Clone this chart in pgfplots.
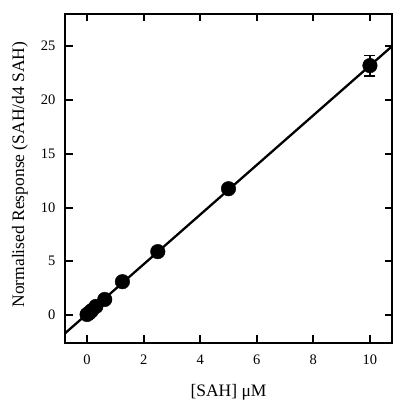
\documentclass[border=0pt]{standalone}
\usepackage{fontspec}
\setmainfont{Liberation Serif}
\usepackage{pgfplots}
\pgfplotsset{compat=1.18}
\begin{document}
\begin{tikzpicture}
\begin{axis}[
  scale only axis,
  width=327pt, height=329pt,
  xmin=-0.78, xmax=10.78,
  ymin=-2.6, ymax=28,
  xtick={0,2,4,6,8,10},
  ytick={0,5,10,15,20,25},
  tick align=inside,
  major tick length=7.5pt,
  xtick style={black, line width=2pt},
  ytick style={black, line width=2pt},
  axis line style={line width=2.2pt},
  tick label style={font=\fontsize{14.5}{16}\selectfont},
  xticklabel style={yshift=-8pt},
  yticklabel style={xshift=-6pt},
  /pgf/number format/assume math mode=true,
  xlabel={[SAH] μM},
  ylabel={Normalised Response (SAH/d4 SAH)},
  label style={font=\fontsize{17.5}{20}\selectfont},
  xlabel style={anchor=center, at={(axis description cs:0.5,-0.150)}},
  ylabel style={anchor=center, at={(axis description cs:-0.138,0.512)}},
]
\addplot[black, line width=2.3pt] coordinates {(-0.78,-1.70) (10.78,25.0)};
\addplot[only marks, mark=*, mark size=7.3pt, black,
  error bars/.cd, y dir=both, y explicit, error bar style={line width=1.7pt},
  error mark options={rotate=90, mark size=5.5pt, line width=1.7pt}]
  coordinates {
  (0,0.05) +- (0,0)
  (0.078,0.2) +- (0,0)
  (0.156,0.4) +- (0,0)
  (0.3125,0.8) +- (0,0)
  (0.625,1.45) +- (0,0)
  (1.25,3.1) +- (0,0)
  (2.5,5.9) +- (0,0)
  (5,11.75) +- (0,0)
  (10,23.2) +- (0,0.95)
  };
\end{axis}
\pgfresetboundingbox
\path[use as bounding box] ([shift={(-65pt,-60pt)}]current axis.south west) rectangle ([shift={(1pt,14pt)}]current axis.north east);
\end{tikzpicture}
\end{document}
